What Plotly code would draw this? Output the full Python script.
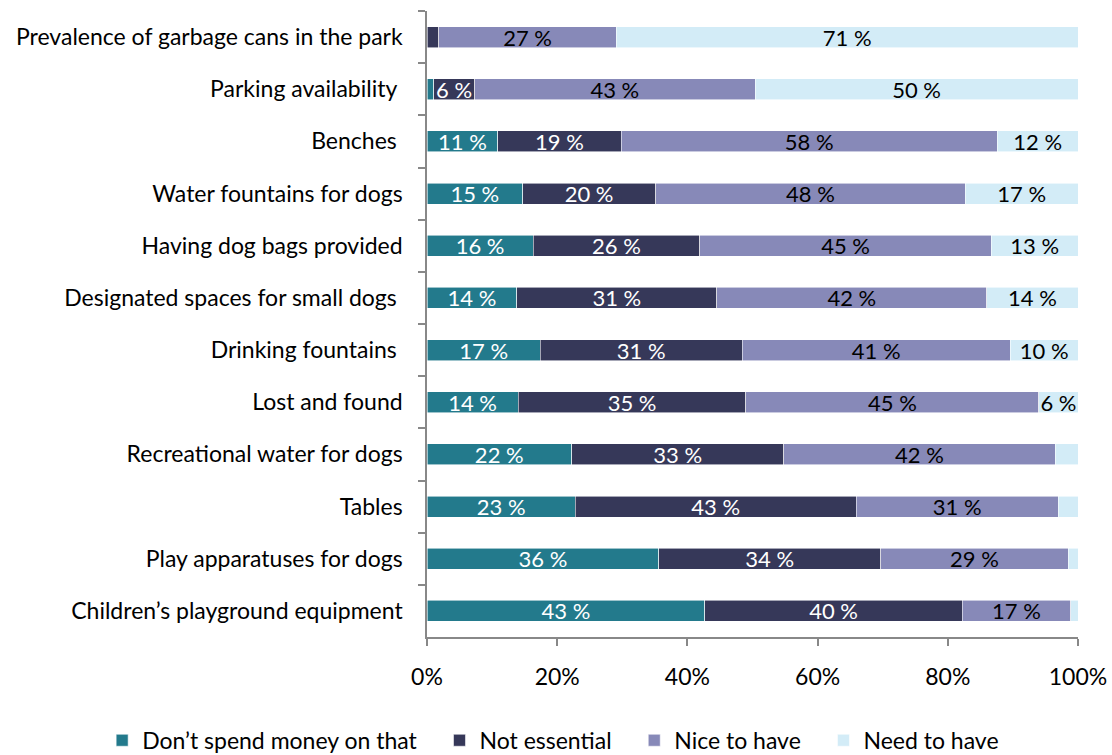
import plotly.graph_objects as go

categories = [
    "Prevalence of garbage cans in the park",
    "Parking availability\u00a0",
    "Benches\u00a0",
    "Water fountains for dogs",
    "Having dog bags provided",
    "Designated spaces for small dogs\u00a0",
    "Drinking fountains\u00a0",
    "Lost and found",
    "Recreational water for dogs",
    "Tables",
    "Play apparatuses for dogs",
    "Children\u2019s playground equipment",
]

dont_spend = [0.0, 1.0, 10.9, 14.7, 16.3, 13.8, 17.4, 14.0, 22.2, 22.8, 35.6, 42.7]
not_essential = [1.8, 6.3, 18.9, 20.4, 25.6, 30.7, 31.0, 35.0, 32.6, 43.1, 34.1, 39.5]
nice_to_have = [27.3, 43.1, 57.8, 47.6, 44.8, 41.5, 41.2, 45.0, 41.7, 31.1, 28.8, 16.7]
need_to_have = [70.9, 49.6, 12.4, 17.3, 13.3, 14.0, 10.4, 6.0, 3.5, 3.0, 1.5, 1.1]

series = [
    ("Don\u2019t spend money on that", dont_spend, "#237A8C", "white"),
    ("Not essential", not_essential, "#363859", "white"),
    ("Nice to have", nice_to_have, "#8789B8", "black"),
    ("Need to have", need_to_have, "#D3ECF7", "black"),
]

xticks = [0, 20, 40, 60, 80, 100]

FONT = "Lato"
PAD = "\u00a0\u00a0\u00a0"

fig = go.Figure()
for name, vals, color, tcolor in series:
    labels = [f"{round(v)} %" if v >= 5 else "" for v in vals]
    fig.add_trace(go.Bar(
        name=name + PAD, y=categories, x=vals, orientation="h",
        marker=dict(color=color, line=dict(color="rgba(255,255,255,0.7)", width=0.8)),
        text=labels, textposition="inside", insidetextanchor="middle",
        textangle=0, constraintext="none",
        textfont=dict(family=FONT, size=22, color=tcolor),
        width=0.4, hoverinfo="skip",
    ))

fig.update_layout(
    barmode="stack",
    width=1112, height=755,
    margin=dict(l=427, r=34, t=11, b=118, autoexpand=False),
    paper_bgcolor="white", plot_bgcolor="white",
    font=dict(family=FONT, size=23, color="black"),
    uniformtext=dict(mode="show", minsize=22),
    showlegend=True,
    legend=dict(
        orientation="h", xref="paper", yref="paper",
        x=-0.499, y=-0.165, xanchor="left", yanchor="middle",
        font=dict(family=FONT, size=23, color="black"),
        traceorder="normal", itemwidth=30,
    ),
    xaxis=dict(
        range=[0, 100], tickvals=xticks, ticktext=[f"{t}%" for t in xticks],
        showgrid=False, zeroline=False, showline=True, linecolor="#888888", linewidth=1.5,
        ticks="outside", ticklen=7, tickcolor="#888888", tickwidth=1.5,
        ticklabelstandoff=12,
        tickfont=dict(family=FONT, size=23, color="black"),
    ),
    yaxis=dict(
        autorange="reversed", showgrid=False, zeroline=False,
        showline=True, linecolor="#888888", linewidth=1.5,
        ticks="outside", ticklen=7, tickcolor="#888888", tickwidth=1.5,
        tickson="boundaries", ticklabelstandoff=18,
        tickfont=dict(family=FONT, size=23, color="black"),
    ),
)

fig.write_html("out.html")
